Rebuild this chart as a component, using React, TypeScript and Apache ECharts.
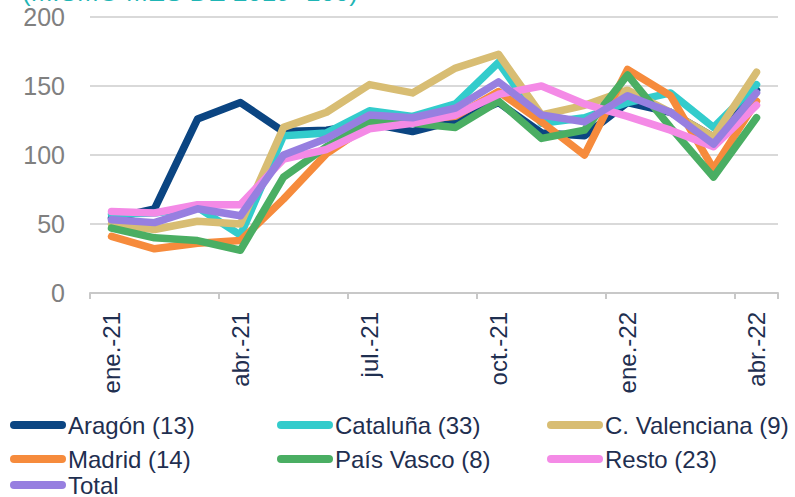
import React, { useEffect, useRef } from "react";
import * as echarts from "echarts";

const categories = ["ene.-21", "feb.-21", "mar.-21", "abr.-21", "may.-21", "jun.-21", "jul.-21", "ago.-21", "sep.-21", "oct.-21", "nov.-21", "dic.-21", "ene.-22", "feb.-22", "mar.-22", "abr.-22"];

const aragon = [54, 61, 126, 138, 117, 118, 123, 117, 125, 138, 116, 114, 138, 131, 113, 147];
const cataluna = [57, 58, 62, 42, 114, 116, 132, 128, 137, 167, 123, 127, 138, 145, 120, 151];
const valenciana = [50, 46, 52, 50, 120, 131, 151, 145, 163, 173, 129, 136, 147, 131, 113, 160];
const madrid = [41, 32, 36, 38, 68, 101, 122, 125, 128, 146, 124, 100, 162, 143, 90, 139];
const paisVasco = [47, 40, 38, 31, 84, 106, 124, 123, 120, 139, 112, 118, 158, 120, 84, 127];
const resto = [59, 58, 64, 64, 97, 104, 119, 123, 129, 144, 150, 137, 128, 118, 106, 136];
const total = [53, 51, 61, 56, 100, 112, 129, 127, 134, 153, 129, 124, 143, 131, 108, 145];

const seriesNames = ["Aragón (13)", "Cataluña (33)", "C. Valenciana (9)", "Madrid (14)", "País Vasco (8)", "Resto (23)", "Total"];
const seriesColors = ["#0B4582", "#33CCCC", "#D8BD73", "#F68B3C", "#4AAE63", "#F48AE6", "#977FE0"];
const seriesData = [aragon, cataluna, valenciana, madrid, paisVasco, resto, total];

const legendPos = [
  { left: 10, top: 413 },
  { left: 277, top: 413 },
  { left: 547, top: 413 },
  { left: 10, top: 447 },
  { left: 277, top: 447 },
  { left: 547, top: 447 },
  { left: 10, top: 473 },
];

const FONT = "'Liberation Sans', Arial, sans-serif";
const pill = "path://M4,0 H52 A4,4 0 0 1 52,8 H4 A4,4 0 0 1 4,0 Z";

export default function App() {
  const ref = useRef<HTMLDivElement>(null);
  useEffect(() => {
    if (!ref.current) return;
    const chart = echarts.init(ref.current, null, { renderer: "svg" });
    chart.setOption({
      animation: false,
      backgroundColor: "#ffffff",
      textStyle: { fontFamily: FONT },
      graphic: [
        {
          type: "text",
          left: 22,
          top: -21,
          style: {
            text: "(MISMO MES DE 2019=100)",
            fill: "#1FB5B5",
            font: "26px " + FONT,
          },
        },
      ],
      grid: { left: 90, right: 17, top: 17, bottom: 204, containLabel: false },
      legend: seriesNames.map((n, i) => ({
        data: [n],
        left: legendPos[i].left,
        top: legendPos[i].top,
        orient: "horizontal",
        icon: pill,
        itemWidth: 56,
        itemHeight: 8,
        padding: 0,
        selectedMode: false,
        textStyle: { color: "#1F2F50", fontSize: 24, fontFamily: FONT, padding: [0, 0, 0, -3] },
      })),
      xAxis: {
        type: "category",
        data: categories,
        boundaryGap: true,
        axisLine: { show: true, lineStyle: { color: "#C8C8C8", width: 2 } },
        axisTick: { show: true, interval: 2, length: 6, lineStyle: { color: "#C8C8C8", width: 2 } },
        axisLabel: { interval: 2, rotate: 90, margin: 19, color: "#1F2F50", fontSize: 24, fontFamily: FONT },
        splitLine: { show: false },
      },
      yAxis: {
        type: "value",
        min: 0,
        max: 200,
        interval: 50,
        axisLine: { show: false },
        axisTick: { show: false },
        axisLabel: { color: "#808080", fontSize: 25, margin: 25, fontFamily: FONT },
        splitLine: { show: true, lineStyle: { color: "#D9D9D9", width: 2 } },
      },
      series: seriesNames.map((n, i) => ({
        name: n,
        type: "line",
        data: seriesData[i],
        showSymbol: false,
        symbol: "none",
        color: seriesColors[i],
        lineStyle: { width: 7.5, color: seriesColors[i], cap: "round", join: "round" },
        z: 2 + i,
      })),
    });
    return () => chart.dispose();
  }, []);
  return <div ref={ref} style={{ width: 795, height: 497, position: "absolute", left: 0, top: 0 }} />;
}
